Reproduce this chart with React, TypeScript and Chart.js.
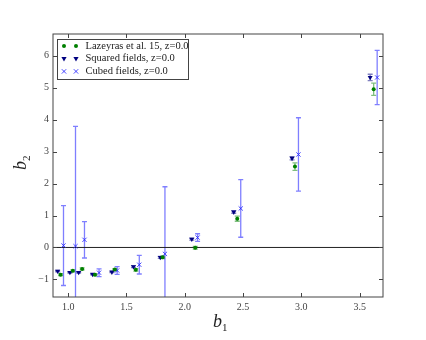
import React, { useEffect, useRef } from "react";
import { Chart, registerables } from "chart.js";
Chart.register(...registerables);

// Lazeyras et al. 15
const lazX = [0.935, 1.04, 1.12, 1.23, 1.40, 1.58, 1.81, 2.09, 2.45, 2.945, 3.62];
const lazY = [-0.85, -0.73, -0.67, -0.85, -0.69, -0.70, -0.31, -0.01, 0.90, 2.53, 4.95];
const lazErr = [0.03, 0.03, 0.03, 0.03, 0.03, 0.04, 0.04, 0.04, 0.08, 0.12, 0.19];
// Squared fields
const sqX = [0.91, 1.015, 1.09, 1.21, 1.375, 1.56, 1.79, 2.06, 2.42, 2.92, 3.59];
const sqY = [-0.74, -0.78, -0.78, -0.84, -0.77, -0.60, -0.31, 0.26, 1.11, 2.79, 5.32];
const sqErr = [0.02, 0.02, 0.02, 0.02, 0.02, 0.03, 0.03, 0.03, 0.04, 0.05, 0.10];
// Cubed fields
const cubX = [0.96, 1.063, 1.14, 1.265, 1.42, 1.61, 1.83, 2.11, 2.48, 2.975, 3.65];
const cubY = [0.06, 0.04, 0.24, -0.79, -0.72, -0.54, -0.2, 0.31, 1.22, 2.91, 5.32];
const cubErr = [1.25, 3.75, 0.57, 0.12, 0.12, 0.29, 2.1, 0.12, 0.9, 1.15, 0.85];

const xTicks = [1.0, 1.5, 2.0, 2.5, 3.0, 3.5];
const yTicks = [-1, 0, 1, 2, 3, 4, 5, 6];
const legendLabels = ["Lazeyras et al. 15, z=0.0", "Squared fields, z=0.0", "Cubed fields, z=0.0"];

const SERIF = '"Liberation Serif", "DejaVu Serif", serif';

export default function App() {
  const ref = useRef<HTMLCanvasElement>(null);
  useEffect(() => {
    const series = [
      { label: legendLabels[0], xs: lazX, ys: lazY, errs: lazErr, color: "#008000", err: "rgba(0,128,0,0.5)", style: "circle", r: 2, rot: 0, kind: "o" },
      { label: legendLabels[1], xs: sqX, ys: sqY, errs: sqErr, color: "#000080", err: "rgba(0,0,128,0.5)", style: "triangle", r: 2.9, rot: 180, kind: "v" },
      { label: legendLabels[2], xs: cubX, ys: cubY, errs: cubErr, color: "rgba(40,40,255,0.85)", err: "rgba(0,0,255,0.5)", style: "crossRot", r: 3, rot: 0, kind: "x" },
    ];

    const drawMarker = (ctx: CanvasRenderingContext2D, kind: string, color: string, x: number, y: number) => {
      ctx.save();
      ctx.fillStyle = color;
      ctx.strokeStyle = color;
      ctx.lineWidth = 1;
      ctx.beginPath();
      if (kind === "o") {
        ctx.arc(x, y, 2, 0, Math.PI * 2);
        ctx.fill();
      } else if (kind === "v") {
        ctx.moveTo(x - 2.6, y - 1.6);
        ctx.lineTo(x + 2.6, y - 1.6);
        ctx.lineTo(x, y + 2.8);
        ctx.closePath();
        ctx.fill();
      } else {
        ctx.moveTo(x - 2.2, y - 2.2);
        ctx.lineTo(x + 2.2, y + 2.2);
        ctx.moveTo(x + 2.2, y - 2.2);
        ctx.lineTo(x - 2.2, y + 2.2);
        ctx.stroke();
      }
      ctx.restore();
    };

    const plugin = {
      id: "mplstyle",
      beforeDatasetsDraw(chart: any) {
        const { ctx, chartArea: a, scales } = chart;
        const xs = scales.x, ys = scales.y;
        ctx.save();
        ctx.beginPath();
        ctx.rect(a.left, a.top, a.right - a.left, a.bottom - a.top);
        ctx.clip();
        series.forEach((s) => {
          ctx.strokeStyle = s.err;
          ctx.lineWidth = 1.3;
          s.xs.forEach((xv, i) => {
            const px = xs.getPixelForValue(xv);
            const pt = ys.getPixelForValue(s.ys[i] + s.errs[i]);
            const pb = ys.getPixelForValue(s.ys[i] - s.errs[i]);
            ctx.beginPath();
            ctx.moveTo(px, pt);
            ctx.lineTo(px, pb);
            ctx.moveTo(px - 2.5, pt);
            ctx.lineTo(px + 2.5, pt);
            ctx.moveTo(px - 2.5, pb);
            ctx.lineTo(px + 2.5, pb);
            ctx.stroke();
          });
        });
        // zero line
        const z = ys.getPixelForValue(0);
        ctx.strokeStyle = "#222";
        ctx.lineWidth = 1;
        ctx.beginPath();
        ctx.moveTo(a.left, z);
        ctx.lineTo(a.right, z);
        ctx.stroke();
        ctx.restore();
      },
      afterDraw(chart: any) {
        const { ctx, chartArea: a, scales } = chart;
        const xs = scales.x, ys = scales.y;
        ctx.save();
        // frame
        ctx.strokeStyle = "#444";
        ctx.lineWidth = 1;
        ctx.strokeRect(a.left, a.top, a.right - a.left, a.bottom - a.top);
        // inward ticks
        ctx.beginPath();
        xTicks.forEach((v) => {
          const px = Math.round(xs.getPixelForValue(v)) + 0.5;
          ctx.moveTo(px, a.bottom);
          ctx.lineTo(px, a.bottom - 4);
          ctx.moveTo(px, a.top);
          ctx.lineTo(px, a.top + 4);
        });
        yTicks.forEach((v) => {
          const py = Math.round(ys.getPixelForValue(v)) + 0.5;
          ctx.moveTo(a.left, py);
          ctx.lineTo(a.left + 4, py);
          ctx.moveTo(a.right, py);
          ctx.lineTo(a.right - 4, py);
        });
        ctx.stroke();

        // legend
        const lx = a.left + 4.5, ly = a.top + 5.5, lw = 131, lh = 40;
        ctx.fillStyle = "#fff";
        ctx.fillRect(lx, ly, lw, lh);
        ctx.strokeStyle = "#444";
        ctx.strokeRect(lx, ly, lw, lh);
        ctx.font = `10.5px ${SERIF}`;
        ctx.fillStyle = "#222";
        ctx.textBaseline = "middle";
        ctx.textAlign = "left";
        series.forEach((s, i) => {
          const yy = ly + 6.5 + i * 12.7;
          drawMarker(ctx, s.kind, s.color, lx + 6.5, yy);
          drawMarker(ctx, s.kind, s.color, lx + 18.5, yy);
          ctx.fillStyle = "#222";
          ctx.fillText(s.label, lx + 28, yy);
        });

        // axis titles
        ctx.fillStyle = "#222";
        ctx.textBaseline = "alphabetic";
        ctx.font = `italic 18px ${SERIF}`;
        ctx.fillText("b", 213, 327);
        ctx.font = `11px ${SERIF}`;
        ctx.fillText("1", 222, 331);
        ctx.translate(26, 170);
        ctx.rotate(-Math.PI / 2);
        ctx.font = `italic 18px ${SERIF}`;
        ctx.fillText("b", 0, 0);
        ctx.font = `11px ${SERIF}`;
        ctx.fillText("2", 9, 4);
        ctx.restore();
      },
    };

    const chart = new Chart(ref.current as HTMLCanvasElement, {
      type: "scatter",
      data: {
        datasets: series.map((s) => ({
          label: s.label,
          data: s.xs.map((x, i) => ({ x, y: s.ys[i] })),
          pointStyle: s.style as any,
          pointRadius: s.r,
          pointRotation: s.rot,
          pointBorderWidth: s.kind === "x" ? 1 : 0,
          backgroundColor: s.color,
          borderColor: s.color,
          showLine: false,
        })),
      },
      options: {
        animation: false,
        responsive: false,
        events: [],
        layout: { padding: { left: 0, top: 34, right: 43, bottom: 0 } },
        plugins: { legend: { display: false }, tooltip: { enabled: false } },
        scales: {
          x: {
            type: "linear",
            min: 0.87,
            max: 3.7,
            grid: { display: false, drawTicks: false },
            border: { display: false },
            afterBuildTicks: (sc: any) => {
              sc.ticks = xTicks.map((v) => ({ value: v }));
            },
            afterFit: (sc: any) => {
              sc.height = 43;
            },
            ticks: {
              padding: 4,
              color: "#444",
              font: { family: SERIF, size: 10 },
              maxRotation: 0,
              callback: (v: any) => Number(v).toFixed(1),
            },
          },
          y: {
            type: "linear",
            min: -1.55,
            max: 6.68,
            grid: { display: false, drawTicks: false },
            border: { display: false },
            afterBuildTicks: (sc: any) => {
              sc.ticks = yTicks.map((v) => ({ value: v }));
            },
            afterFit: (sc: any) => {
              sc.width = 53;
            },
            ticks: {
              padding: 4,
              color: "#444",
              font: { family: SERIF, size: 10 },
              callback: (v: any) => (Number(v) < 0 ? "\u2212" + Math.abs(Number(v)) : String(v)),
            },
          },
        },
      },
      plugins: [plugin],
    });
    return () => chart.destroy();
  }, []);

  return (
    <div style={{ position: "fixed", left: 0, top: 0, width: 426, height: 340, background: "#fff" }}>
      <canvas ref={ref} width={426} height={340} style={{ width: 426, height: 340, display: "block" }} />
    </div>
  );
}
